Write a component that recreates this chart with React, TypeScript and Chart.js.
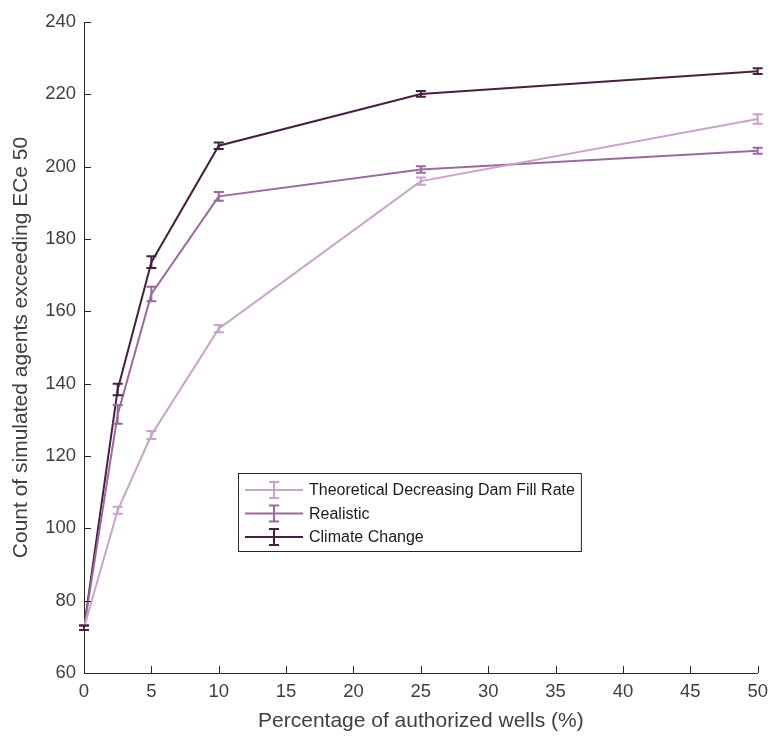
import { useEffect, useRef } from "react";
import { Chart, registerables } from "chart.js";

Chart.register(...registerables);

// Percentage of authorized wells (x) and the three scenarios (mean ± error)
const wells = [0, 2.5, 5, 10, 25, 50];

const theoreticalLabel = "Theoretical Decreasing Dam Fill Rate";
const theoretical = [72.5, 105, 125.8, 155.2, 196, 213.2];
const theoreticalErr = [0.6, 1.0, 1.1, 1.0, 1.0, 1.3];

const realisticLabel = "Realistic";
const realistic = [72.5, 131.5, 164.8, 191.8, 199.2, 204.4];
const realisticErr = [0.6, 2.6, 2.0, 1.2, 0.9, 0.8];

const climateLabel = "Climate Change";
const climate = [72.5, 138.4, 173.6, 205.8, 220.1, 226.4];
const climateErr = [0.6, 1.6, 1.6, 0.9, 0.8, 0.8];

const xTickValues = [0, 5, 10, 15, 20, 25, 30, 35, 40, 45, 50];
const yTickValues = [60, 80, 100, 120, 140, 160, 180, 200, 220, 240];

const xTitle = "Percentage of authorized wells (%)";
const yTitle = "Count of simulated agents exceeding ECe 50";

const colors = ["#c9a3cb", "#9a6a9c", "#45203f"];
const FONT = "'Liberation Sans', Arial, Helvetica, sans-serif";
const AXIS_COLOR = "#262626";
const TEXT_COLOR = "#404040";

const errorLists = [theoreticalErr, realisticErr, climateErr];

// Vertical error bars with caps, drawn from the datasets through the scales
const errorBarPlugin = {
  id: "errorBars",
  afterDatasetsDraw(chart: any) {
    const { ctx, scales } = chart;
    const xs = scales.x;
    const ys = scales.y;
    chart.data.datasets.forEach((ds: any, i: number) => {
      const errs = errorLists[i];
      ctx.save();
      ctx.strokeStyle = ds.borderColor;
      ctx.lineWidth = 2;
      ds.data.forEach((pt: any, j: number) => {
        const px = xs.getPixelForValue(pt.x);
        const top = ys.getPixelForValue(pt.y + errs[j]);
        const bot = ys.getPixelForValue(pt.y - errs[j]);
        const cap = 5;
        ctx.beginPath();
        ctx.moveTo(px, top);
        ctx.lineTo(px, bot);
        ctx.moveTo(px - cap, top);
        ctx.lineTo(px + cap, top);
        ctx.moveTo(px - cap, bot);
        ctx.lineTo(px + cap, bot);
        ctx.stroke();
      });
      ctx.restore();
    });
  },
};

// Inward tick marks on the two axes
const innerTicksPlugin = {
  id: "innerTicks",
  afterDraw(chart: any) {
    const { ctx, chartArea, scales } = chart;
    const len = 7;
    ctx.save();
    ctx.strokeStyle = AXIS_COLOR;
    ctx.lineWidth = 1;
    ctx.beginPath();
    xTickValues.forEach((v) => {
      const px = Math.round(scales.x.getPixelForValue(v)) + 0.5;
      ctx.moveTo(px, chartArea.bottom);
      ctx.lineTo(px, chartArea.bottom - len);
    });
    yTickValues.forEach((v) => {
      const py = Math.round(scales.y.getPixelForValue(v)) + 0.5;
      ctx.moveTo(chartArea.left, py);
      ctx.lineTo(chartArea.left + len, py);
    });
    ctx.stroke();
    ctx.restore();
  },
};

// Boxed legend inside the plot, each entry with a line + error-bar glyph
const boxLegendPlugin = {
  id: "boxLegend",
  afterDraw(chart: any) {
    const { ctx } = chart;
    const left = 238;
    const top = 473;
    const rowH = 23.5;
    const firstRow = top + 17;
    const lineStart = left + 7;
    const lineEnd = left + 65;
    const textX = left + 71;
    ctx.save();
    ctx.font = `16px ${FONT}`;
    let maxW = 0;
    chart.data.datasets.forEach((ds: any) => {
      maxW = Math.max(maxW, ctx.measureText(ds.label).width);
    });
    const width = textX - left + maxW + 6;
    const height = rowH * 2 + 31;
    ctx.fillStyle = "#ffffff";
    ctx.fillRect(left, top, width, height);
    ctx.strokeStyle = AXIS_COLOR;
    ctx.lineWidth = 1;
    ctx.strokeRect(left + 0.5, top + 0.5, width, height);
    chart.data.datasets.forEach((ds: any, i: number) => {
      const y = firstRow + i * rowH;
      ctx.strokeStyle = ds.borderColor;
      ctx.lineWidth = 2;
      ctx.beginPath();
      ctx.moveTo(lineStart, y);
      ctx.lineTo(lineEnd, y);
      const cx = (lineStart + lineEnd) / 2;
      ctx.moveTo(cx, y - 8);
      ctx.lineTo(cx, y + 8);
      ctx.moveTo(cx - 5, y - 8);
      ctx.lineTo(cx + 5, y - 8);
      ctx.moveTo(cx - 5, y + 8);
      ctx.lineTo(cx + 5, y + 8);
      ctx.stroke();
      ctx.fillStyle = "#1a1a1a";
      ctx.textBaseline = "middle";
      ctx.textAlign = "left";
      ctx.fillText(ds.label, textX, y + 1);
    });
    ctx.restore();
  },
};

export default function App() {
  const canvasRef = useRef<HTMLCanvasElement | null>(null);

  useEffect(() => {
    document.body.style.margin = "0";
    const canvas = canvasRef.current;
    if (!canvas) return;

    const toPoints = (ys: number[]) => wells.map((x, i) => ({ x, y: ys[i] }));

    const chart = new Chart(canvas, {
      type: "line",
      data: {
        datasets: [
          { label: theoreticalLabel, data: toPoints(theoretical), borderColor: colors[0], backgroundColor: colors[0] },
          { label: realisticLabel, data: toPoints(realistic), borderColor: colors[1], backgroundColor: colors[1] },
          { label: climateLabel, data: toPoints(climate), borderColor: colors[2], backgroundColor: colors[2] },
        ],
      },
      options: {
        responsive: false,
        animation: false,
        devicePixelRatio: 1,
        layout: { padding: { top: 22, right: 14, left: 0, bottom: 0 } },
        elements: {
          line: { borderWidth: 2, tension: 0 },
          point: { radius: 0, hoverRadius: 0 },
        },
        plugins: {
          legend: { display: false },
          tooltip: { enabled: false },
        },
        scales: {
          x: {
            type: "linear",
            min: 0,
            max: 50,
            afterBuildTicks: (scale: any) => {
              scale.ticks = xTickValues.map((v) => ({ value: v }));
            },
            afterFit: (scale: any) => {
              scale.height = 63;
            },
            grid: { display: false, drawTicks: false },
            border: { display: true, color: AXIS_COLOR, width: 1 },
            ticks: {
              padding: 8,
              color: TEXT_COLOR,
              font: { family: FONT, size: 18.5 },
              maxRotation: 0,
              autoSkip: false,
            },
            title: {
              display: true,
              text: xTitle,
              color: TEXT_COLOR,
              font: { family: FONT, size: 21 },
              padding: { top: 0, bottom: 2 },
            },
          },
          y: {
            type: "linear",
            min: 60,
            max: 240,
            afterBuildTicks: (scale: any) => {
              scale.ticks = yTickValues.map((v) => ({ value: v }));
            },
            afterFit: (scale: any) => {
              scale.width = 84;
            },
            grid: { display: false, drawTicks: false },
            border: { display: true, color: AXIS_COLOR, width: 1 },
            ticks: {
              padding: 8,
              color: TEXT_COLOR,
              font: { family: FONT, size: 18.5 },
              autoSkip: false,
            },
            title: {
              display: true,
              text: yTitle,
              color: TEXT_COLOR,
              font: { family: FONT, size: 21 },
              padding: { top: 9, bottom: 0 },
            },
          },
        },
      },
      plugins: [errorBarPlugin, innerTicksPlugin, boxLegendPlugin],
    } as any);

    return () => chart.destroy();
  }, []);

  return (
    <div style={{ width: 776, height: 736, background: "#ffffff" }}>
      <canvas ref={canvasRef} width={776} height={736} style={{ display: "block" }} />
    </div>
  );
}
